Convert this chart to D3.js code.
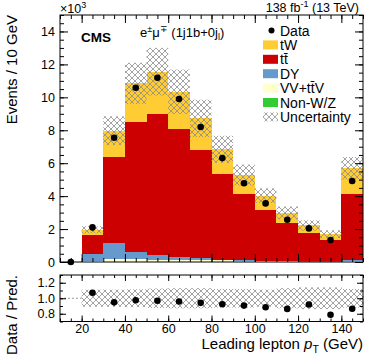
<!DOCTYPE html>
<html>
<head>
<meta charset="utf-8">
<script src="https://cdn.jsdelivr.net/npm/d3@7"></script>
<style>
  body { margin: 0; background: #fff; }
  svg { font-family: "Liberation Sans", Arial, sans-serif; }
</style>
</head>
<body>
<div id="chart"></div>
<script>
// bin low edges (GeV), width 10
const binLow = [10, 20, 30, 40, 50, 60, 70, 80, 90, 100, 110, 120, 130, 140];
// stacked predictions, events x 10^3
const nonWZ = [0, 0.02, 0.03, 0.03, 0.02, 0.02, 0.02, 0.015, 0.01, 0.01, 0.01, 0.01, 0.005, 0.01];
const vvttV = [0, 0.05, 0.13, 0.14, 0.13, 0.12, 0.10, 0.08, 0.05, 0.04, 0.03, 0.02, 0.02, 0.06];
const dy    = [0, 0.42, 0.97, 0.46, 0.27, 0.14, 0.10, 0.055, 0.04, 0.03, 0.02, 0.02, 0.015, 0.05];
const ttbar = [0, 1.16, 5.26, 7.89, 8.57, 7.78, 6.58, 5.19, 4.03, 3.08, 2.29, 1.71, 1.30, 4.01];
const tW    = [0, 0.31, 1.58, 2.33, 2.57, 2.28, 1.92, 1.50, 1.15, 0.87, 0.63, 0.46, 0.35, 1.56];
const data  = [0, 2.10, 7.55, 10.58, 11.19, 9.90, 8.20, 6.31, 4.78, 3.56, 2.57, 2.04, 1.33, 4.92];
// relative uncertainty of the prediction
const relUnc = [0, 0.11, 0.11, 0.115, 0.125, 0.13, 0.13, 0.12, 0.12, 0.11, 0.13, 0.14, 0.14, 0.12];

const yTicksMain = [0, 2, 4, 6, 8, 10, 12, 14];
const yTicksRatio = [0.8, 1.0, 1.2];
const xTicks = [20, 40, 60, 80, 100, 120, 140];

const W = 374, H = 359;
const L = 60, R = 363;
const mainTop = 15, mainBot = 262;
const ratTop = 275, ratBot = 321.5;

const colors = {
    nonWZ: "#33cc33",
    vvttV: "#ffffcc",
    dy: "#6699cc",
    ttbar: "#cc0000",
    tW: "#ffcc33"
};
const keys = ["nonWZ", "vvttV", "dy", "ttbar", "tW"];
const series = { nonWZ, vvttV, dy, ttbar, tW };

const rows = binLow.map((lo, i) => {
    const r = { lo };
    keys.forEach(k => r[k] = series[k][i]);
    r.total = keys.reduce((s, k) => s + series[k][i], 0);
    r.data = data[i];
    r.unc = relUnc[i];
    return r;
});

const x = d3.scaleLinear().domain([10, 150]).range([L, R]);
const y = d3.scaleLinear().domain([0, 15]).range([mainBot, mainTop]);
const yr = d3.scaleLinear().domain([0.7, 1.3]).range([ratBot, ratTop]);

const svg = d3.select("#chart").append("svg")
    .attr("width", W).attr("height", H);

const defs = svg.append("defs");
function hatch(id, bg) {
    const p = defs.append("pattern").attr("id", id)
        .attr("patternUnits", "userSpaceOnUse")
        .attr("width", 6).attr("height", 6);
    if (bg) p.append("rect").attr("width", 6).attr("height", 6).attr("fill", bg);
    p.append("path")
        .attr("d", "M0,0L6,6M6,0L0,6M-1,5L1,7M5,-1L7,1M-1,1L1,-1M5,7L7,5")
        .attr("stroke", "#8c8c8c").attr("stroke-width", 0.8).attr("fill", "none");
}
hatch("hatch", null);
hatch("hatchW", "#fff");

// ---------- main panel ----------
const stack = d3.stack().keys(keys)(rows);
const gStack = svg.append("g").attr("shape-rendering", "crispEdges");
gStack.selectAll("g")
    .data(stack)
    .join("g")
    .attr("fill", d => colors[d.key])
    .selectAll("rect")
    .data(d => d.filter(s => s[1] > s[0]))
    .join("rect")
    .attr("x", d => x(d.data.lo))
    .attr("width", d => x(d.data.lo + 10) - x(d.data.lo))
    .attr("y", d => y(d[1]))
    .attr("height", d => y(d[0]) - y(d[1]));

const withMC = rows.filter(r => r.total > 0);
svg.append("g").selectAll("rect")
    .data(withMC)
    .join("rect")
    .attr("x", d => x(d.lo))
    .attr("width", d => x(d.lo + 10) - x(d.lo))
    .attr("y", d => y(d.total * (1 + d.unc)))
    .attr("height", d => y(d.total * (1 - d.unc)) - y(d.total * (1 + d.unc)))
    .attr("fill", "url(#hatch)");

svg.append("g").selectAll("circle")
    .data(rows)
    .join("circle")
    .attr("cx", d => x(d.lo + 5))
    .attr("cy", d => y(d.data))
    .attr("r", 3.3)
    .attr("fill", "#000");

// frame with ticks on all four sides, pointing inward
function frameAxes(g, ys, yMajor, yMinor, tickLen, showX, showY) {
    const top = ys.range()[1], bot = ys.range()[0];
    const xMinor = d3.range(10, 151, 5);
    const left = g.append("g").attr("transform", `translate(${L},0)`)
        .call(d3.axisLeft(ys).tickValues(yMajor).tickSize(-tickLen).tickPadding(5)
            .tickFormat(showY ? d3.format(showY) : ""));
    left.append("g").call(d3.axisLeft(ys).tickValues(yMinor).tickSize(-tickLen / 2).tickFormat(""));
    const right = g.append("g").attr("transform", `translate(${R},0)`)
        .call(d3.axisRight(ys).tickValues(yMajor).tickSize(-tickLen).tickFormat(""));
    right.append("g").call(d3.axisRight(ys).tickValues(yMinor).tickSize(-tickLen / 2).tickFormat(""));
    const bottom = g.append("g").attr("transform", `translate(0,${bot})`)
        .call(d3.axisBottom(x).tickValues(xTicks).tickSize(-tickLen).tickPadding(3)
            .tickFormat(showX ? d3.format("d") : ""));
    bottom.append("g").call(d3.axisBottom(x).tickValues(xMinor).tickSize(-tickLen / 2).tickFormat(""));
    const topAx = g.append("g").attr("transform", `translate(0,${top})`)
        .call(d3.axisTop(x).tickValues(xTicks).tickSize(-tickLen).tickFormat(""));
    topAx.append("g").call(d3.axisTop(x).tickValues(xMinor).tickSize(-tickLen / 2).tickFormat(""));
    g.selectAll(".domain").remove();
    g.selectAll("text").attr("font-size", 12.5).attr("font-family", "Liberation Sans, Arial, sans-serif").attr("fill", "#000");
    g.selectAll("line").attr("stroke", "#000");
    g.append("rect").attr("x", L).attr("y", top).attr("width", R - L).attr("height", bot - top)
        .attr("fill", "none").attr("stroke", "#000").attr("stroke-width", 1);
}

frameAxes(svg.append("g"), y, yTicksMain, d3.range(0, 15.01, 0.5), 8, false, "d");

// ---------- ratio panel ----------
svg.append("line")
    .attr("x1", x(10)).attr("x2", x(150))
    .attr("y1", yr(1)).attr("y2", yr(1))
    .attr("stroke", "#999").attr("stroke-dasharray", "2,2");
svg.append("g").selectAll("rect")
    .data(withMC)
    .join("rect")
    .attr("x", d => x(d.lo))
    .attr("width", d => x(d.lo + 10) - x(d.lo) + 0.5)
    .attr("y", d => yr(1 + d.unc))
    .attr("height", d => yr(1 - d.unc) - yr(1 + d.unc))
    .attr("fill", "url(#hatchW)");
svg.append("g").selectAll("circle")
    .data(withMC)
    .join("circle")
    .attr("cx", d => x(d.lo + 5))
    .attr("cy", d => yr(d.data / d.total))
    .attr("r", 3.3)
    .attr("fill", "#000");

frameAxes(svg.append("g"), yr, yTicksRatio, d3.range(0.7, 1.31, 0.1), 6, true, ".1f");

// ---------- texts ----------
const txt = (xx, yy, s, size, anchor) => svg.append("text")
    .attr("x", xx).attr("y", yy).attr("font-size", size)
    .attr("text-anchor", anchor || "start").text(s);

const mult = txt(L, 13, "×10", 12.5);
mult.append("tspan").attr("dy", -5).attr("font-size", 9).text("3");

const lumi = svg.append("text").attr("x", 359).attr("y", 11.5).attr("font-size", 12.5)
    .attr("text-anchor", "end");
lumi.append("tspan").text("138 fb");
lumi.append("tspan").attr("dy", -5).attr("font-size", 9).text("-1");
lumi.append("tspan").attr("dy", 5).text(" (13 TeV)");

txt(81, 41.5, "CMS", 13.5).attr("font-weight", "bold");

const chan = svg.append("text").attr("x", 140).attr("y", 37).attr("font-size", 13);
chan.append("tspan").text("e");
chan.append("tspan").attr("dy", -5).attr("font-size", 9).text("±");
chan.append("tspan").attr("dy", 5).text("μ");
chan.append("tspan").attr("dy", -5).attr("font-size", 9).text("∓");
chan.append("tspan").attr("dy", 5).text(" (1j1b+0j");
chan.append("tspan").attr("dy", 3).attr("font-size", 9).text("l");
chan.append("tspan").attr("dy", -3).text(")");

// axis titles
svg.append("text").attr("transform", "translate(17,15) rotate(-90)")
    .attr("text-anchor", "end").attr("font-size", 15).text("Events / 10 GeV");
svg.append("text").attr("transform", "translate(17,275) rotate(-90)")
    .attr("text-anchor", "end").attr("font-size", 15).text("Data / Pred.");
const xt = svg.append("text").attr("x", R).attr("y", 349).attr("font-size", 15)
    .attr("text-anchor", "end");
xt.append("tspan").text("Leading lepton ");
xt.append("tspan").attr("font-style", "italic").text("p");
xt.append("tspan").attr("dy", 4).attr("font-size", 10.5).text("T");
xt.append("tspan").attr("dy", -4).text(" (GeV)");

// ---------- legend ----------
const legendItems = [
    { label: "Data", type: "point" },
    { label: "tW", fill: colors.tW },
    { label: "tt\u0304", fill: colors.ttbar },
    { label: "DY", fill: colors.dy },
    { label: "VV+tt\u0304V", fill: colors.vvttV },
    { label: "Non-W/Z", fill: colors.nonWZ },
    { label: "Uncertainty", fill: "url(#hatch)" }
];
const leg = svg.append("g").selectAll("g")
    .data(legendItems)
    .join("g")
    .attr("transform", (d, i) => `translate(263,${30.5 + i * 14.4})`);
leg.filter(d => d.type === "point").append("circle")
    .attr("cx", 8.5).attr("cy", 0).attr("r", 3).attr("fill", "#000");
leg.filter(d => d.type !== "point").append("rect")
    .attr("x", 0).attr("y", -4.5).attr("width", 15).attr("height", 9)
    .attr("fill", d => d.fill);
leg.append("text")
    .attr("x", 17).attr("y", 5).attr("font-size", 14)
    .text(d => d.label);
</script>
</body>
</html>
